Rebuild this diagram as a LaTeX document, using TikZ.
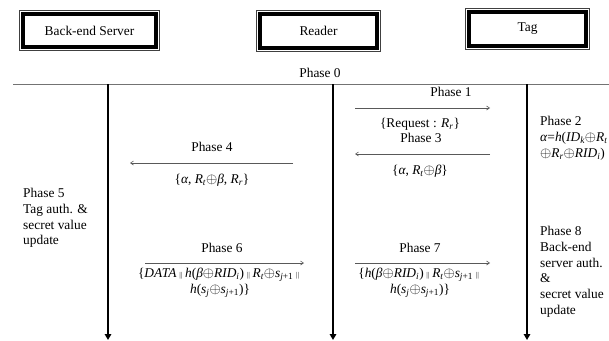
\documentclass[tikz,border=0pt]{standalone}
\usepackage{fontspec}
\setmainfont{Liberation Serif}
\usetikzlibrary{arrows.meta}

% italic subscripts and protocol symbols
\newcommand{\sbs}[1]{\textsubscript{\itshape #1}}
\newcommand{\xo}{\ensuremath{\oplus}}
\newcommand{\cat}{\,{\scriptsize$\|$}\,}
\newcommand{\iv}[1]{\textit{#1}}

\begin{document}
\begin{tikzpicture}[x=1pt,y=-1pt,
  font=\fontsize{13.4}{15.8}\selectfont,
  entity/.style={draw=black, line width=4pt, outer sep=2pt, fill=white,
    minimum width=117pt, minimum height=34pt, inner sep=0pt},
  frame/.style={draw=black!75, line width=0.7pt},
  lifeline/.style={draw=black, line width=1.8pt,
    -{Triangle[length=6pt,width=6.5pt]}},
  msg/.style={draw=black!65, line width=0.6pt,
    -{Straight Barb[length=3pt,width=4pt]}},
  txt/.style={inner sep=0pt},
  blocktxt/.style={inner sep=0pt, anchor=north west, align=left}
]
\useasboundingbox (0,0) rectangle (609,340);

% entity boxes: a thick inner border inside a thin outer frame
\node[entity, minimum width=133pt, minimum height=33pt] (srv) at (89.5,30.5) {Back-end Server};
\node[entity] (rdr) at (318.5,31) {Reader};
\node[entity] (tag) at (527.5,29) {Tag};
\foreach \n in {srv,rdr,tag}
  \draw[frame] ([shift={(-1.6,-1.6)}]\n.north west) rectangle ([shift={(1.6,1.6)}]\n.south east);

% setup phase separator
\node[txt] (p0) at (320,73) {Phase 0};
\coordinate (sepL) at (13,84);
\coordinate (sepR) at (609,84);
\draw[draw=black!55, line width=0.8pt] (sepL) -- (sepR);

% lifelines
\coordinate (srvT) at (108,84);  \coordinate (srvB) at (108,340);
\coordinate (rdrT) at (333,84);  \coordinate (rdrB) at (333,340);
\coordinate (tagT) at (527,84);  \coordinate (tagB) at (527,340);
\draw[lifeline] (srvT) -- (srvB);
\draw[lifeline] (rdrT) -- (rdrB);
\draw[lifeline] (tagT) -- (tagB);

% Phase 1: reader -> tag
\node[txt] (p1) at (451,92) {Phase 1};
\coordinate (m1a) at (355,108); \coordinate (m1b) at (490,108);
\draw[msg] (m1a) -- (m1b);
\node[txt] (m1) at (420,124) {\{Request : \iv{R}\sbs{r}\}};

% Phase 2: tag computation
\node[blocktxt] (p2) at (540,116) {Phase 2\\
  \iv{α}=\iv{h}(\iv{ID}\sbs{k}\xo\iv{R}\sbs{t}\\
  \xo\iv{R}\sbs{r}\xo\iv{RID}\sbs{i})};

% Phase 3: tag -> reader
\node[txt] (p3) at (421,138) {Phase 3};
\coordinate (m3a) at (490,154); \coordinate (m3b) at (355,154);
\draw[msg] (m3a) -- (m3b);
\node[txt] (m3) at (420,171) {\{\iv{α}, \iv{R}\sbs{t}\xo\iv{β}\}};

% Phase 4: reader -> server
\node[txt] (p4) at (212,147) {Phase 4};
\coordinate (m4a) at (293,163); \coordinate (m4b) at (130,163);
\draw[msg] (m4a) -- (m4b);
\node[txt] (m4) at (212,180) {\{\iv{α}, \iv{R}\sbs{t}\xo\iv{β}, \iv{R}\sbs{r}\}};

% Phase 5: server side
\node[blocktxt] (p5) at (23,188) {Phase 5\\Tag auth. \&\\secret value\\update};

% Phase 6: server -> reader
\node[txt] (p6) at (222,248) {Phase 6};
\coordinate (m6a) at (145,263); \coordinate (m6b) at (304,263);
\draw[msg] (m6a) -- (m6b);
\node[txt, align=center] (m6) at (220,283)
  {\{\iv{DATA}\cat\iv{h}(\iv{β}\xo\iv{RID}\sbs{i})\cat\iv{R}\sbs{t}\xo\iv{s}\textsubscript{\iv{j}+1}\cat\\
   \iv{h}(\iv{s}\sbs{j}\xo\iv{s}\textsubscript{\iv{j}+1})\}};

% Phase 7: reader -> tag
\node[txt] (p7) at (420,248) {Phase 7};
\coordinate (m7a) at (355,263); \coordinate (m7b) at (490,263);
\draw[msg] (m7a) -- (m7b);
\node[txt, align=center] (m7) at (420,283)
  {\{\iv{h}(\iv{β}\xo\iv{RID}\sbs{i})\cat\iv{R}\sbs{t}\xo\iv{s}\textsubscript{\iv{j}+1}\cat\\
   \iv{h}(\iv{s}\sbs{j}\xo\iv{s}\textsubscript{\iv{j}+1})\}};

% Phase 8: tag side
\node[blocktxt] (p8) at (540,226) {Phase 8\\Back-end\\server auth.\\\&\\secret value\\update};
\end{tikzpicture}
\end{document}
